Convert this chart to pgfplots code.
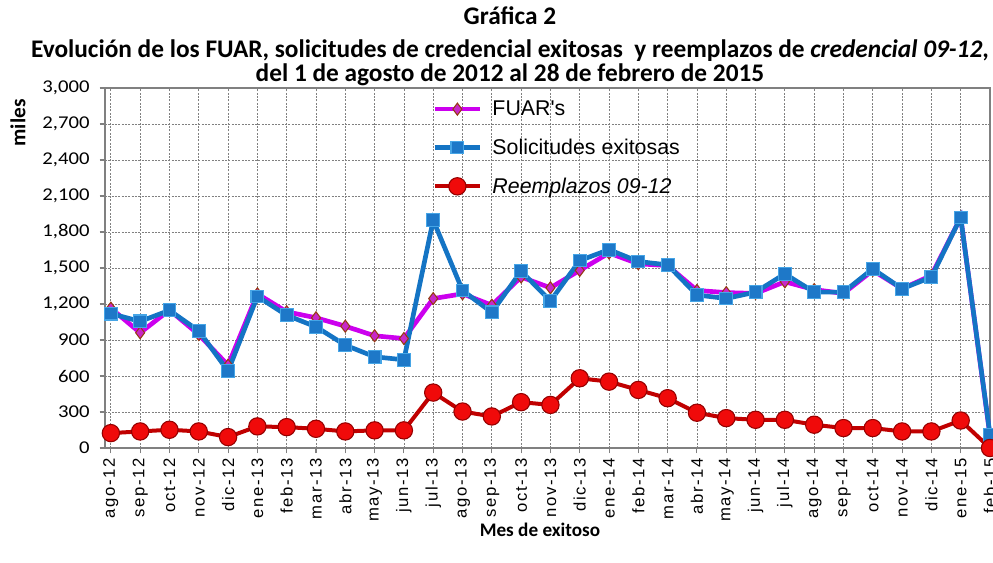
\documentclass[border=0pt]{standalone}
\usepackage{fontspec}
\setmainfont{Carlito}
\newfontfamily\lib{Liberation Sans}
\newfontfamily\lspaced[LetterSpace=10]{Liberation Sans}
\newfontfamily\tickfont[FakeStretch=1.15]{Carlito}
\usepackage{pgfplots}
\pgfplotsset{compat=1.18}
\definecolor{fuarline}{RGB}{204,0,238}
\definecolor{fuarfill}{RGB}{200,40,200}
\definecolor{fuarborder}{RGB}{150,60,20}
\definecolor{solline}{RGB}{20,116,196}
\definecolor{solfill}{RGB}{30,120,200}
\definecolor{solborder}{RGB}{70,165,230}
\definecolor{redline}{RGB}{192,0,0}
\definecolor{redfill}{RGB}{240,10,10}
\definecolor{redborder}{RGB}{150,0,0}
\definecolor{gridgray}{RGB}{128,128,128}
\begin{document}
\begin{tikzpicture}
\begin{axis}[
  width=663.75pt, height=270pt, scale only axis,
  xmin=-0.2, xmax=30, ymin=0, ymax=3000,
  ytick={0,300,...,3000},
  xtick={0,...,30},
  xticklabels={ago-12,sep-12,oct-12,nov-12,dic-12,ene-13,feb-13,mar-13,abr-13,may-13,jun-13,jul-13,ago-13,sep-13,oct-13,nov-13,dic-13,ene-14,feb-14,mar-14,abr-14,may-14,jun-14,jul-14,ago-14,sep-14,oct-14,nov-14,dic-14,ene-15,feb-15},
  grid=major,
  major grid style={dash pattern=on 1.5pt off 1pt, gridgray, line width=0.6pt},
  axis line style={gridgray, line width=0.8pt},
  tick style={gridgray, line width=0.8pt},
  tick align=outside, major tick length=4pt, tick pos=left,
  /pgf/number format/assume math mode=true,
  /pgf/number format/1000 sep={,},
  scaled y ticks=false,
  yticklabel style={font=\tickfont\fontsize{13.5}{15}\selectfont, xshift=-4pt},
  xticklabel style={rotate=90, anchor=east, font=\lspaced\fontsize{12.5}{14}\selectfont},
  clip=false,
  legend style={at={(rel axis cs:0.365,0.98)}, anchor=north west, draw=none, fill=none,
    font=\lib\fontsize{16}{18}\selectfont, row sep=12pt,
    nodes={inner xsep=7.5pt}},
  legend cell align=left,
  legend image code/.code={\draw[mark repeat=2,mark phase=2] plot coordinates {(0cm,0cm)(0.6cm,0cm)(1.2cm,0cm)};},
]
\addplot[color=fuarline, line width=3.5pt, mark=diamond*, mark size=4.5pt,
  mark options={fill=fuarfill, draw=fuarborder, line width=0.8pt}] coordinates {
(0,1165)(1,960)(2,1150)(3,945)(4,690)(5,1285)(6,1135)(7,1085)(8,1015)(9,935)(10,912)
(11,1245)(12,1285)(13,1190)(14,1425)(15,1335)(16,1480)(17,1625)(18,1535)(19,1520)(20,1313)
(21,1295)(22,1288)(23,1385)(24,1320)(25,1288)(26,1480)(27,1327)(28,1438)(29,1921)(30,100)};
\addlegendentry{FUAR's}
\addplot[color=solline, line width=3.5pt, mark=square*, mark size=4.8pt,
  mark options={fill=solfill, draw=solborder, line width=0.8pt}] coordinates {
(0,1120)(1,1055)(2,1147)(3,976)(4,641)(5,1263)(6,1106)(7,1010)(8,857)(9,760)(10,735)
(11,1899)(12,1313)(13,1130)(14,1474)(15,1225)(16,1562)(17,1653)(18,1554)(19,1526)(20,1275)
(21,1246)(22,1299)(23,1451)(24,1299)(25,1299)(26,1493)(27,1327)(28,1424)(29,1921)(30,110)};
\addlegendentry{Solicitudes exitosas}
\addplot[color=redline, line width=3pt, mark=*, mark size=6.5pt,
  mark options={fill=redfill, draw=redborder, line width=0.8pt}] coordinates {
(0,124)(1,138)(2,152)(3,138)(4,91)(5,180)(6,174)(7,160)(8,138)(9,147)(10,147)
(11,462)(12,304)(13,263)(14,382)(15,359)(16,581)(17,553)(18,484)(19,415)(20,294)
(21,249)(22,235)(23,235)(24,194)(25,166)(26,166)(27,138)(28,138)(29,229)(30,0)};
\addlegendentry{\itshape Reemplazos 09-12}
\node[rotate=90, font=\bfseries\fontsize{16}{18}\selectfont] at (rel axis cs:-0.0983,0.903) {miles};
\node[font=\bfseries\fontsize{14.4}{18}\selectfont] at (rel axis cs:0.4915,-0.2278) {Mes de exitoso};
\node[anchor=base, font=\bfseries\fontsize{19}{22}\selectfont] at (rel axis cs:0.4576,1.175) {Gráfica 2};
\node[anchor=base, font=\bfseries\fontsize{19}{22}\selectfont] at (rel axis cs:0.4576,1.086) {Evolución de los FUAR, solicitudes de credencial exitosas \ y reemplazos de \textit{credencial 09-12},};
\node[anchor=base, font=\bfseries\fontsize{19}{22}\selectfont] at (rel axis cs:0.4576,1.0167) {del 1 de agosto de 2012 al 28 de febrero de 2015};
\end{axis}
\path (current axis.south west) ++(-78.75pt,-86.25pt) coordinate (bl);
\path (current axis.north east) ++(2.25pt,66pt) coordinate (tr);
\pgfresetboundingbox
\path (bl) rectangle (tr);
\end{tikzpicture}
\end{document}
